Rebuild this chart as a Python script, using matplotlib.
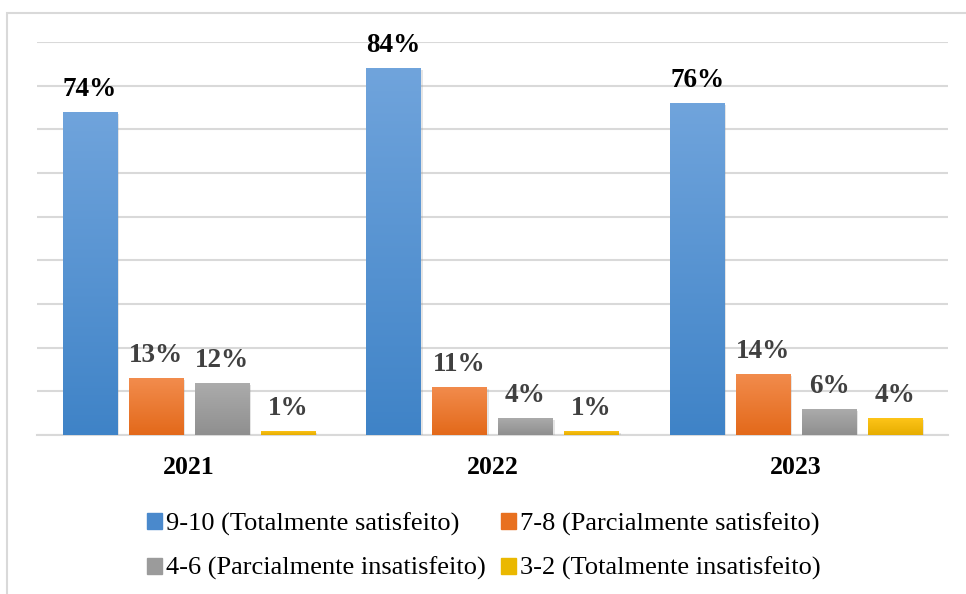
import numpy as np
import matplotlib
matplotlib.use("Agg")
import matplotlib.pyplot as plt
import matplotlib.patches as patches
import matplotlib.patheffects as pe
from matplotlib.colors import LinearSegmentedColormap

years = ["2021", "2022", "2023"]
series = [
    "9-10 (Totalmente satisfeito)",
    "7-8 (Parcialmente satisfeito)",
    "4-6 (Parcialmente insatisfeito)",
    "3-2 (Totalmente insatisfeito)",
]
satisfeito_total = [74, 84, 76]
satisfeito_parcial = [13, 11, 14]
insatisfeito_parcial = [12, 4, 6]
insatisfeito_total = [1, 1, 4]
values = [satisfeito_total, satisfeito_parcial, insatisfeito_parcial, insatisfeito_total]

# (top colour, bottom colour, legend colour)
colors = [
    ("#70a4dc", "#3f83c7", "#4a89cc"),
    ("#f28c4d", "#e3691a", "#e8701f"),
    ("#acacac", "#8f8f8f", "#9b9b9b"),
    ("#ffc61a", "#e6ad00", "#eab800"),
]
label_colors = ["#000000", "#404040", "#404040", "#404040"]

plt.rcParams["font.family"] = ["Liberation Serif", "DejaVu Serif"]

fig = plt.figure(figsize=(9.66, 5.94), dpi=100)
ax = fig.add_axes([37 / 966, 1 - 435 / 594, 911 / 966, 393 / 594])

# outer chart border
fig.add_artist(patches.Rectangle((7 / 966, -0.05), 1.0, 1 - 13 / 594 + 0.05,
                                 transform=fig.transFigure, fill=False,
                                 edgecolor="#d9d9d9", linewidth=1.5))

x = np.arange(len(years))
width = 0.178
step = 0.2173
offsets = (np.arange(4) - 1.5) * step

grad = np.linspace(0, 1, 256).reshape(-1, 1)
shadow = [pe.SimplePatchShadow(offset=(1.5, -1.5), shadow_rgbFace="#999999",
                               alpha=0.25), pe.Normal()]
for i, vals in enumerate(values):
    top, bottom, _ = colors[i]
    cmap = LinearSegmentedColormap.from_list(f"g{i}", [bottom, top])
    bars = ax.bar(x + offsets[i], vals, width, color=colors[i][2],
                  linewidth=0, zorder=3)
    for b, v in zip(bars, vals):
        b.set_path_effects(shadow)
        x0, y0 = b.get_x(), b.get_y()
        w, h = b.get_width(), b.get_height()
        im = ax.imshow(grad, cmap=cmap, origin="lower", aspect="auto",
                       extent=(x0 - 0.01, x0 + w + 0.01, y0, y0 + h), zorder=4)
        im.set_clip_path(b)
        ax.annotate(f"{v}%", (x0 + w / 2, y0 + h), xytext=(0, 11.5),
                    textcoords="offset points", ha="center", va="baseline",
                    fontsize=19.5, fontweight="bold", color=label_colors[i],
                    zorder=5)

ax.set_xlim(-0.5, 2.5)
ax.set_ylim(0, 90)
ax.set_yticks(np.arange(0, 91, 10))
ax.yaxis.grid(True, color="#d9d9d9", linewidth=1.5, zorder=0)
ax.set_axisbelow(True)
ax.tick_params(axis="y", left=False, labelleft=False)
ax.set_xticks(x)
ax.set_xticklabels(years, fontsize=18.5, fontweight="bold")
ax.tick_params(axis="x", length=0, pad=15)
for s in ["top", "right", "left"]:
    ax.spines[s].set_visible(False)
ax.spines["bottom"].set_color("#d9d9d9")
ax.spines["bottom"].set_linewidth(1.5)

handles = [patches.Patch(color=c[2]) for c in colors]
order = [0, 2, 1, 3]
fig.legend([handles[k] for k in order], [series[k] for k in order],
           loc="center", bbox_to_anchor=(484 / 966, 1 - 546.5 / 594), ncol=2,
           frameon=False, fontsize=19, handlelength=0.55, handleheight=0.55,
           handletextpad=0.15, columnspacing=0.6, labelspacing=0.8,
           borderpad=0.1)

fig.savefig("out.png", dpi=100)
